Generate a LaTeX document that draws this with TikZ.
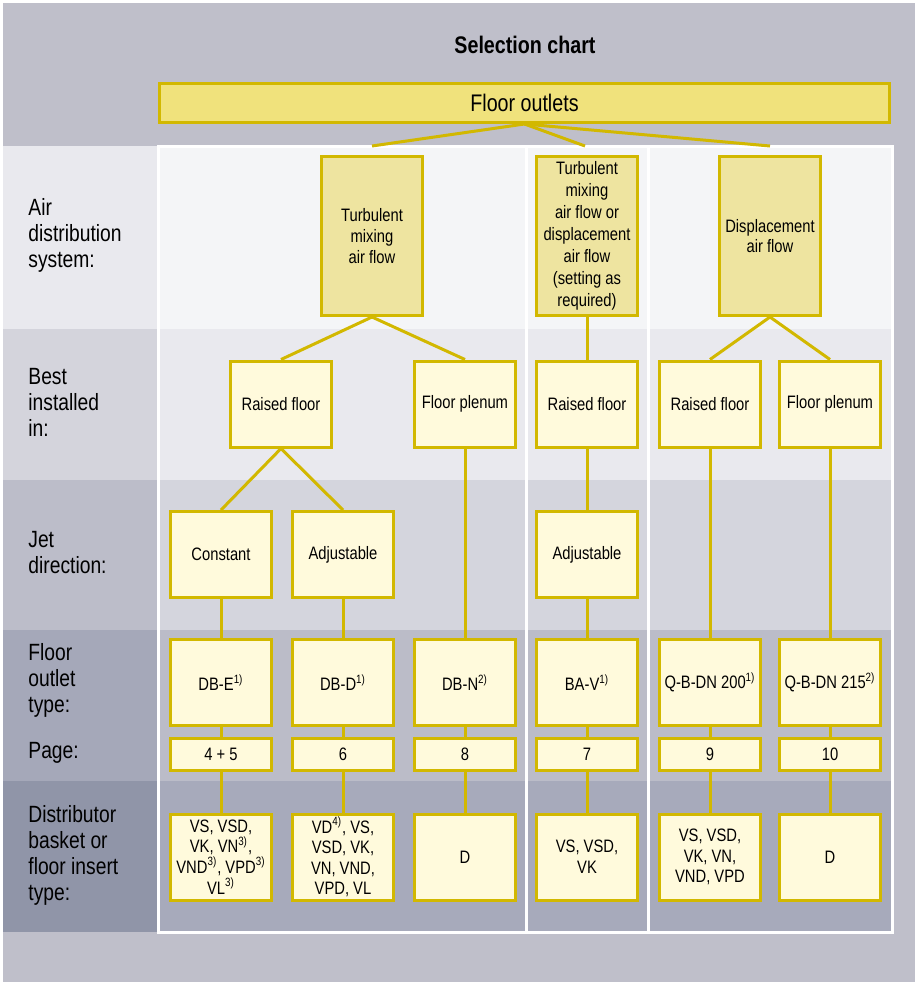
\documentclass[tikz,border=0pt]{standalone}
\usepackage{fontspec}
\setmainfont{Liberation Sans}[FakeStretch=0.82]
\definecolor{chartbg}{HTML}{BFBFCA}
\definecolor{rowAl}{HTML}{E9E9EE}
\definecolor{rowAc}{HTML}{F4F5F7}
\definecolor{rowBl}{HTML}{D4D4DC}
\definecolor{rowBc}{HTML}{E9E9EE}
\definecolor{rowCl}{HTML}{BCBDC9}
\definecolor{rowCc}{HTML}{D4D5DD}
\definecolor{rowDl}{HTML}{A5A8B9}
\definecolor{rowDc}{HTML}{BBBCC8}
\definecolor{rowEl}{HTML}{9095A8}
\definecolor{rowEc}{HTML}{A7AABB}
\definecolor{boxline}{HTML}{D2B800}
\definecolor{boxfill}{HTML}{FFFADC}
\definecolor{topfill}{HTML}{EEE4A0}
\definecolor{outletfill}{HTML}{F0E27C}
\tikzset{
  selbox/.style={draw=boxline, line width=1.5pt, fill=boxfill, minimum width=50.5pt,
    minimum height=43pt, inner sep=0pt, align=center, font=\fontsize{9}{10.3}\selectfont},
  systembox/.style={selbox, fill=topfill, minimum height=79.5pt},
  pagebox/.style={selbox, minimum height=16pt},
  link/.style={draw=boxline, line width=1.5pt},
  rowlabel/.style={anchor=west, align=left, inner sep=0pt, font=\fontsize{11.75}{13}\selectfont},
}
\begin{document}
\begin{tikzpicture}[x=0.5pt, y=-0.5pt]
    \useasboundingbox (0,0) rectangle (915,982);
    % background
    \fill[white] (0,0) rectangle (915,982);
    \fill[chartbg] (3,3) rectangle (915,982);
    % row bands (label column, chart area)
    \fill[rowAl] (3,146) rectangle (158,329);
    \fill[rowAc] (158,146) rectangle (892,329);
    \fill[rowBl] (3,329) rectangle (158,480);
    \fill[rowBc] (158,329) rectangle (892,480);
    \fill[rowCl] (3,480) rectangle (158,630);
    \fill[rowCc] (158,480) rectangle (892,630);
    \fill[rowDl] (3,630) rectangle (158,781);
    \fill[rowDc] (158,630) rectangle (892,781);
    \fill[rowEl] (3,781) rectangle (158,932);
    \fill[rowEc] (158,781) rectangle (892,932);
    % white frame and column dividers
    \draw[white, line width=1.5pt] (158,146) rectangle (892,932);
    \draw[white, line width=1.5pt] (526,146) -- (526,932);
    \draw[white, line width=1.5pt] (648,146) -- (648,932);
    % title
    \node[font=\fontsize{12}{14}\selectfont\bfseries] (title) at (525,45) {Selection chart};
    \node[selbox, fill=outletfill, minimum width=365pt, minimum height=19.5pt,
      font=\fontsize{12}{14}\selectfont] (outlets) at (524.5,103) {Floor outlets};
    % row labels
    \node[rowlabel] (lblsystem) at (28,235) {Air\\distribution\\system:};
    \node[rowlabel] (lblinstall) at (28,402) {Best\\installed\\in:};
    \node[rowlabel] (lbljet) at (28,553) {Jet\\direction:};
    \node[rowlabel] (lbltype) at (28,680) {Floor\\outlet\\type:};
    \node[rowlabel] (lblpage) at (28,753) {Page:};
    \node[rowlabel] (lblinsert) at (28,855) {Distributor\\basket or\\floor insert\\type:};
    % air distribution system
    \node[systembox] (mixing) at (372,236) {Turbulent\\mixing\\air flow};
    \node[systembox, font=\fontsize{9}{11}\selectfont] (either) at (587,236)
      {Turbulent\\mixing\\air flow or\\displacement\\air flow\\(setting as\\required)};
    \node[systembox] (displace) at (770,236) {Displacement\\air flow};
    % best installed in
    \node[selbox] (raisedA) at (281,404) {Raised floor};
    \node[selbox] (plenumA) at (465,404) {Floor plenum};
    \node[selbox] (raisedB) at (587,404) {Raised floor};
    \node[selbox] (raisedC) at (710,404) {Raised floor};
    \node[selbox] (plenumC) at (830,404) {Floor plenum};
    % jet direction
    \node[selbox] (constant) at (221,554.5) {Constant};
    \node[selbox] (adjustA) at (343,554.5) {Adjustable};
    \node[selbox] (adjustB) at (587,554.5) {Adjustable};
    % floor outlet type
    \node[selbox] (dbe) at (221,682.5) {DB-E\textsuperscript{1)}};
    \node[selbox] (dbd) at (343,682.5) {DB-D\textsuperscript{1)}};
    \node[selbox] (dbn) at (465,682.5) {DB-N\textsuperscript{2)}};
    \node[selbox] (bav) at (587,682.5) {BA-V\textsuperscript{1)}};
    \node[selbox] (qbA) at (710,682.5) {Q-B-DN 200\textsuperscript{1)}};
    \node[selbox] (qbB) at (830,682.5) {Q-B-DN 215\textsuperscript{2)}};
    % page
    \node[pagebox] (pgdbe) at (221,754.5) {4 + 5};
    \node[pagebox] (pgdbd) at (343,754.5) {6};
    \node[pagebox] (pgdbn) at (465,754.5) {8};
    \node[pagebox] (pgbav) at (587,754.5) {7};
    \node[pagebox] (pgqbA) at (710,754.5) {9};
    \node[pagebox] (pgqbB) at (830,754.5) {10};
    % distributor basket or floor insert
    \node[selbox] (insdbe) at (221,857) {VS, VSD,\\VK, VN\textsuperscript{3)},\\VND\textsuperscript{3)}, VPD\textsuperscript{3)}\\VL\textsuperscript{3)}};
    \node[selbox] (insdbd) at (343,857) {VD\textsuperscript{4)}, VS,\\VSD, VK,\\VN, VND,\\VPD, VL};
    \node[selbox] (insdbn) at (465,857) {D};
    \node[selbox] (insbav) at (587,857) {VS, VSD,\\VK};
    \node[selbox] (insqbA) at (710,857) {VS, VSD,\\VK, VN,\\VND, VPD};
    \node[selbox] (insqbB) at (830,857) {D};
    % links from floor outlets (hidden behind the frame)
    \coordinate (endA) at (372,146);
    \coordinate (endB) at (585,146);
    \coordinate (endC) at (770,146);
    \draw[link] (outlets.south) -- (endA);
    \draw[link] (outlets.south) -- (endB);
    \draw[link] (outlets.south) -- (endC);
    % links down the tree
    \draw[link] (mixing.south) -- (raisedA.north);
    \draw[link] (mixing.south) -- (plenumA.north);
    \draw[link] (either.south) -- (raisedB.north);
    \draw[link] (displace.south) -- (raisedC.north);
    \draw[link] (displace.south) -- (plenumC.north);
    \draw[link] (raisedA.south) -- (constant.north);
    \draw[link] (raisedA.south) -- (adjustA.north);
    \draw[link] (raisedB.south) -- (adjustB.north);
    \draw[link] (plenumA.south) -- (dbn.north);
    \draw[link] (raisedC.south) -- (qbA.north);
    \draw[link] (plenumC.south) -- (qbB.north);
    \draw[link] (constant.south) -- (dbe.north);
    \draw[link] (adjustA.south) -- (dbd.north);
    \draw[link] (adjustB.south) -- (bav.north);
    \foreach \col in {dbe,dbd,dbn,bav,qbA,qbB} {
      \draw[link] (\col.south) -- (pg\col.north);
      \draw[link] (pg\col.south) -- (ins\col.north);
    }
\end{tikzpicture}
\end{document}
